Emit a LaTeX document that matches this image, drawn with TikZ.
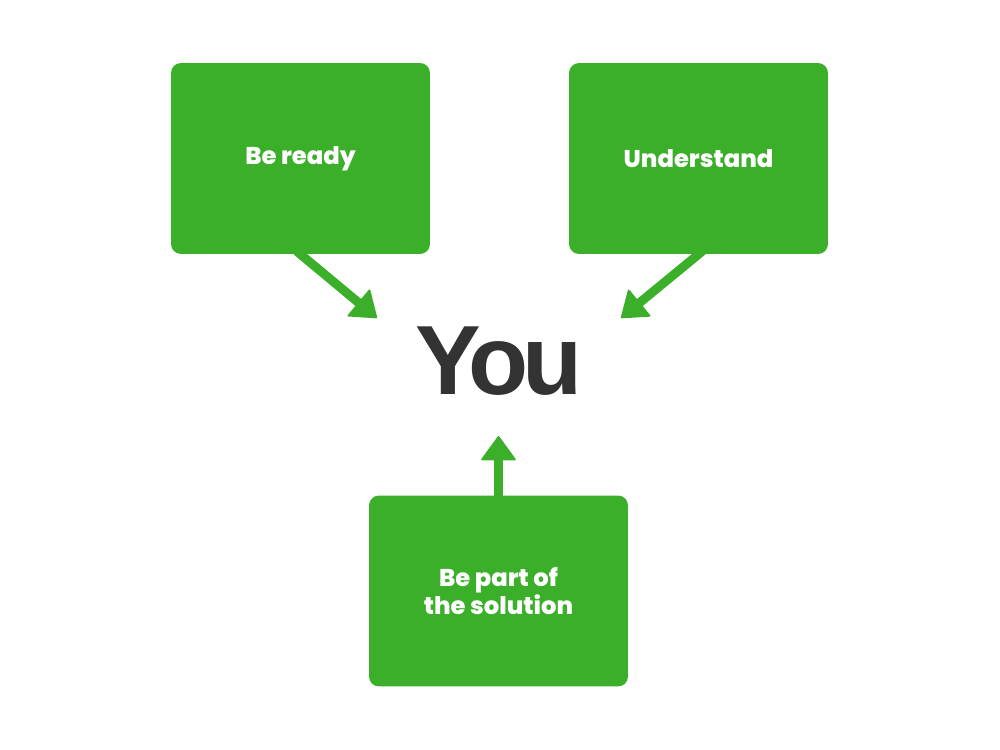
\documentclass[tikz,border=0pt]{standalone}
\usepackage{fontspec}
\setmainfont{Poppins}[BoldFont={* ExtraBold}]
\newfontfamily\youfont{Liberation Sans}[LetterSpace=-6]
\usetikzlibrary{arrows.meta}
\definecolor{leafgreen}{HTML}{3BAF2A}
\definecolor{inkgray}{HTML}{333333}

\tikzset{
  box/.style={fill=leafgreen, rounded corners=0.2cm, minimum width=5.18cm,
    minimum height=3.82cm, inner sep=0pt, text=white, align=center,
    font=\bfseries\fontsize{13.8}{14.8}\selectfont},
  link/.style={draw=leafgreen, line width=0.18cm, shorten <=-3pt,
    -{Triangle[width=0.72cm,length=0.5cm,round,line width=1pt]}}
}

\begin{document}
\begin{tikzpicture}[x=0.02cm,y=-0.02cm]
\useasboundingbox (0,0) rectangle (1000,750);
\node[box] (bready) at (300.5,158.5) {Be ready};
\node[box] (under) at (698.5,158.5) {Understand};
\node[box] (bsol) at (498.5,591) {Be part of\\the solution};
\node[anchor=base, text=inkgray, inner sep=0pt,
  font=\youfont\bfseries\fontsize{56}{60}\selectfont] (you) at (499,394) {You};
%%% arrow ends near the word
\coordinate (youL) at (377,318);
\coordinate (youR) at (621,318);
\coordinate (youB) at (498.5,436);
\draw[link] (bready.south) -- (youL);
\draw[link] (under.south) -- (youR);
\draw[link] (bsol.north) -- (youB);
\end{tikzpicture}
\end{document}
